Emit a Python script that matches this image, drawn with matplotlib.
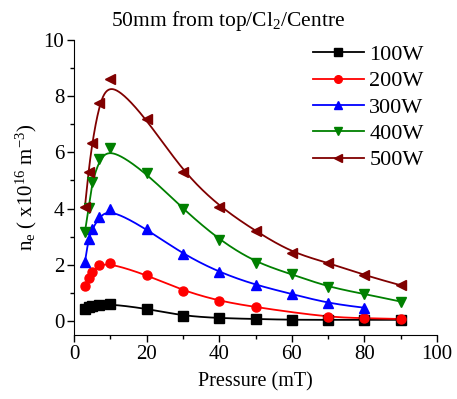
import numpy as np
import matplotlib
matplotlib.use("Agg")
import matplotlib.pyplot as plt
from matplotlib.ticker import MultipleLocator

plt.rcParams['font.family'] = ['Liberation Serif', 'DejaVu Serif']
plt.rcParams['mathtext.fontset'] = 'custom'
plt.rcParams['mathtext.rm'] = 'Liberation Serif'
plt.rcParams['mathtext.it'] = 'Liberation Serif:italic'

p_100 = [3, 4, 5, 7, 10, 20, 30, 40, 50, 60, 70, 80, 90]
ne_100 = [0.42, 0.49, 0.53, 0.56, 0.60, 0.44, 0.18, 0.10, 0.07, 0.04, 0.04, 0.04, 0.04]
p_200 = [3, 4, 5, 7, 10, 20, 30, 40, 50, 70, 80, 90]
ne_200 = [1.25, 1.52, 1.73, 1.99, 2.05, 1.64, 1.08, 0.71, 0.49, 0.13, 0.10, 0.07]
p_300 = [3, 4, 5, 7, 10, 20, 30, 40, 50, 60, 70, 80]
ne_300 = [2.09, 2.92, 3.26, 3.71, 3.99, 3.27, 2.38, 1.73, 1.28, 0.96, 0.63, 0.47]
p_400 = [3, 4, 5, 7, 10, 20, 30, 40, 50, 60, 70, 80, 90]
ne_400 = [3.16, 4.01, 4.94, 5.75, 6.17, 5.26, 3.99, 2.88, 2.08, 1.66, 1.21, 0.96, 0.69]
p_500 = [3, 4, 5, 7, 10, 20, 30, 40, 50, 60, 70, 80, 90]
ne_500 = [4.05, 5.31, 6.32, 7.77, 8.61, 7.20, 5.31, 4.07, 3.20, 2.43, 2.07, 1.63, 1.27]

labels = ['100W', '200W', '300W', '400W', '500W']
colors = ['#000000', '#FF0000', '#0000FF', '#008000', '#800000']
markers = ['s', 'o', '^', 'v', '<']
series = [(p_100, ne_100), (p_200, ne_200), (p_300, ne_300), (p_400, ne_400), (p_500, ne_500)]


def bspline(x, y, n=40):
    P = np.column_stack([x, y]).astype(float)
    P = np.vstack([P[0], P[0], P, P[-1], P[-1]])
    t = np.linspace(0, 1, n)
    b0 = (1 - t) ** 3 / 6
    b1 = (3 * t ** 3 - 6 * t ** 2 + 4) / 6
    b2 = (-3 * t ** 3 + 3 * t ** 2 + 3 * t + 1) / 6
    b3 = t ** 3 / 6
    pts = []
    for i in range(len(P) - 3):
        seg = (np.outer(b0, P[i]) + np.outer(b1, P[i + 1]) +
               np.outer(b2, P[i + 2]) + np.outer(b3, P[i + 3]))
        pts.append(seg)
    pts = np.vstack(pts)
    return pts[:, 0], pts[:, 1]


fig = plt.figure(figsize=(4.57, 3.99), dpi=100)
ax = fig.add_axes([74 / 457, 1 - 335 / 399, (437 - 74) / 457, (335 - 40) / 399])

for (x, y), lab, c, m in zip(series, labels, colors, markers):
    sx, sy = bspline(x, y)
    ax.plot(sx, sy, color=c, lw=1.3, zorder=2)
    ax.plot(x, y, linestyle='none', marker=m, color=c, ms=6.5, zorder=3)
    ax.plot([], [], color=c, lw=1.3, marker=m, ms=5.5, label=lab)

ax.set_xlim(0, 100)
ax.set_ylim(-0.5, 10)
ax.xaxis.set_major_locator(MultipleLocator(20))
ax.xaxis.set_minor_locator(MultipleLocator(10))
ax.yaxis.set_major_locator(MultipleLocator(2))
ax.yaxis.set_minor_locator(MultipleLocator(1))
ax.spines['top'].set_visible(False)
ax.spines['right'].set_visible(False)
ax.tick_params(which='major', direction='out', length=5, width=1, labelsize=15, pad=2)
ax.tick_params(which='minor', direction='out', length=3, width=1)

ax.set_xlabel('Pressure (mT)', fontsize=14.5, labelpad=6)
ax.set_ylabel(r'n$_{\rm e}$ ( x10$^{16}$ m$^{-3}$)', fontsize=15, labelpad=3)
fig.text(0.5, 1 - 26 / 399, r'50mm from top/Cl$_2$/Centre', ha='center', va='baseline', fontsize=15.5)

leg = ax.legend(loc='upper right', bbox_to_anchor=(1.0, 1.03), frameon=False, fontsize=16,
                handlelength=2.3, handletextpad=0.25, labelspacing=0.26, borderaxespad=0.2)

fig.savefig('out.png', dpi=100)
